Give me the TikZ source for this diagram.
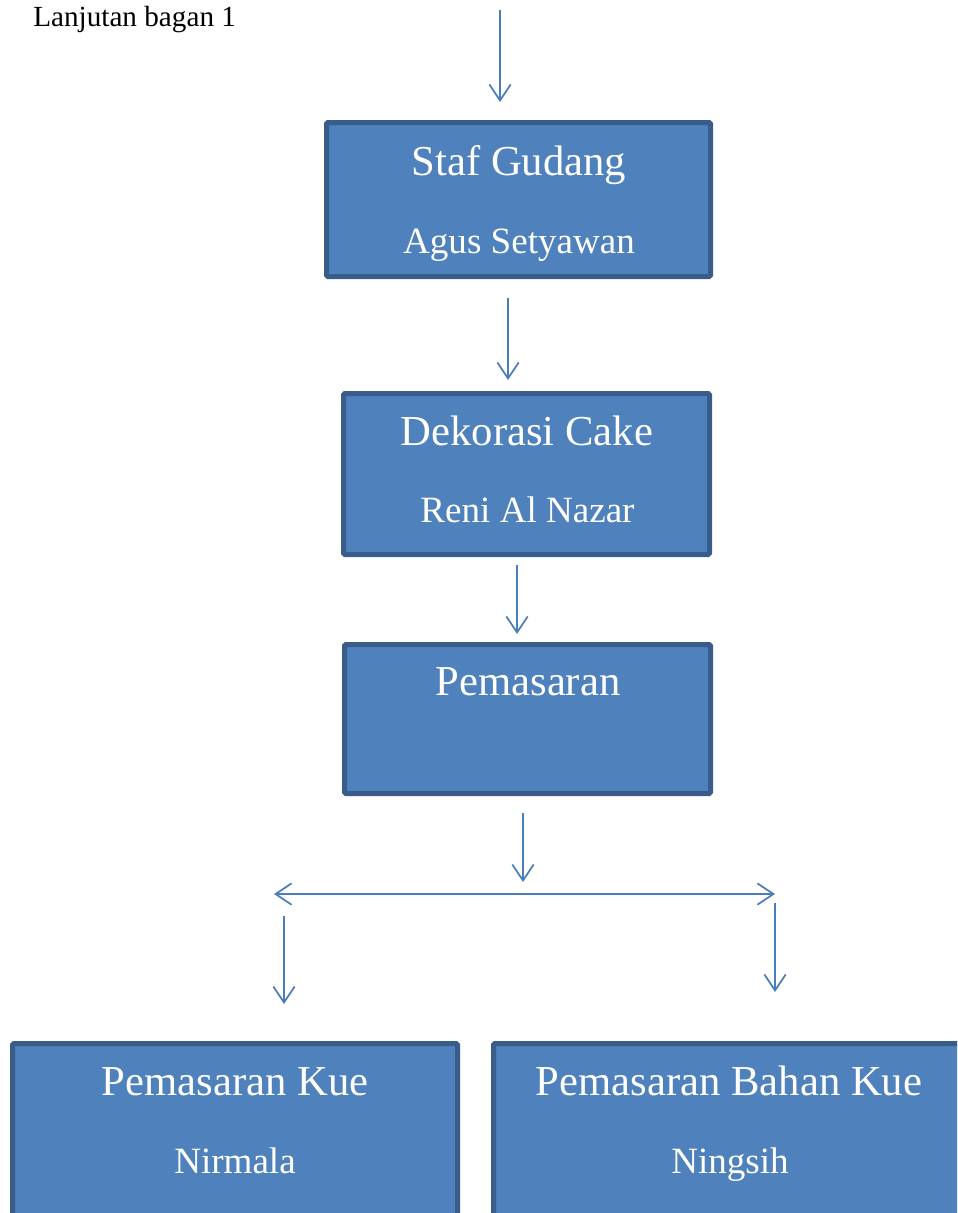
\documentclass[tikz,border=0pt]{standalone}
\usepackage{fontspec}
\setmainfont{Liberation Serif}
\usetikzlibrary{arrows.meta}
\definecolor{boxfill}{HTML}{4F81BD}
\definecolor{boxline}{HTML}{385D8A}
\definecolor{arrowblue}{HTML}{4A7EBB}
\begin{document}
\begin{tikzpicture}[x=0.75pt,y=-0.75pt,
  box/.style={draw=boxline, fill=boxfill, line width=3.75pt, rounded corners=1pt, inner sep=0pt, outer sep=0pt},
  titletext/.style={text=white, anchor=base, inner sep=0pt, font=\fontsize{32}{38}\selectfont},
  subtext/.style={text=white, anchor=base, inner sep=0pt, font=\fontsize{27.8}{33}\selectfont},
  conn/.style={draw=arrowblue, line width=1.3pt, -{Straight Barb[length=12pt,width=16pt,line width=1.3pt]}}
]
\useasboundingbox (0,0) rectangle (957,1213);
\clip (0,0) rectangle (957,1213);

% header text
\node[anchor=base west, inner sep=0pt, font=\fontsize{21.9}{26}\selectfont] (hdr) at (33,27) {Lanjutan bagan 1};

% boxes
\node[box, minimum width=288pt, minimum height=115.5pt] (b1) at (518.5,199.5) {};
\node[box, minimum width=274.5pt, minimum height=120.75pt] (b2) at (526.5,474) {};
\node[box, minimum width=274.5pt, minimum height=111.75pt] (b3) at (527.5,719) {};
\node[box, minimum width=333.75pt, minimum height=136.1pt] (b4) at (235,1134.25) {};
\node[box, minimum width=353.25pt, minimum height=136.1pt] (b5) at (729,1134.25) {};

% texts
\node[titletext] (t1) at (519,175) {Staf Gudang};
\node[subtext] (s1) at (519,253) {Agus Setyawan};
\node[titletext] (t2) at (527,445) {Dekorasi Cake};
\node[subtext] (s2) at (527.5,522) {Reni Al Nazar};
\node[titletext] (t3) at (528,695) {Pemasaran};
\node[titletext] (t4) at (235,1095) {Pemasaran Kue};
\node[subtext] (s4) at (235,1173) {Nirmala};
\node[titletext] (t5) at (729,1095) {Pemasaran Bahan Kue};
\node[subtext] (s5) at (730,1173) {Ningsih};

% connector end points
\coordinate (a0s) at (500,10);   \coordinate (a0e) at (500,102);
\coordinate (a1s) at (508,298);  \coordinate (a1e) at (508,380);
\coordinate (a2s) at (517,565);  \coordinate (a2e) at (517,634);
\coordinate (a3s) at (523,813);  \coordinate (a3e) at (523,882);
\coordinate (split) at (507,894);
\coordinate (hl) at (274,894);   \coordinate (hr) at (775,894);
\coordinate (l1s) at (284,916);  \coordinate (l1e) at (284,1004);
\coordinate (r1s) at (775,903);  \coordinate (r1e) at (775,992);

% connectors
\draw[conn] (a0s) -- (a0e);
\draw[conn] (a1s) -- (a1e);
\draw[conn] (a2s) -- (a2e);
\draw[conn] (a3s) -- (a3e);
\draw[conn] (split) -- (hl);
\draw[conn] (split) -- (hr);
\draw[conn] (l1s) -- (l1e);
\draw[conn] (r1s) -- (r1e);
\end{tikzpicture}
\end{document}
